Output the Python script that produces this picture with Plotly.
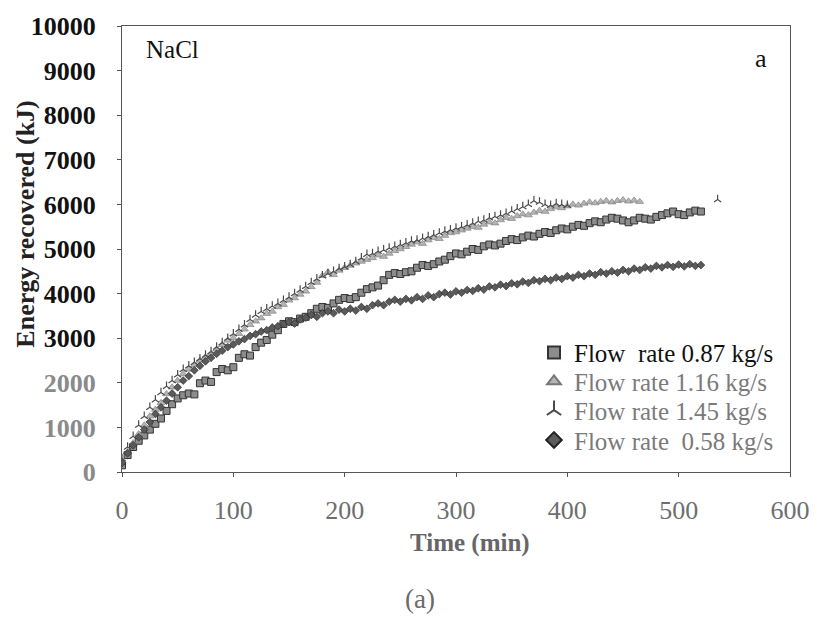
import plotly.graph_objects as go

# ---------------- data ----------------
step_min = 5  # sampling interval of the readings (min)

e_087 = [150, 380, 560, 700, 820, 950, 1080, 1200, 1370, 1520,
         1650, 1720, 1760, 1740, 1990, 2050, 2020, 2240, 2310, 2280,
         2350, 2560, 2640, 2610, 2800, 2900, 2960, 3080, 3180, 3320,
         3380, 3360, 3440, 3480, 3560, 3660, 3700, 3680, 3780, 3860,
         3900, 3880, 3920, 4020, 4100, 4140, 4180, 4300, 4420, 4460,
         4440, 4480, 4500, 4580, 4640, 4620, 4660, 4720, 4760, 4840,
         4900, 4880, 4940, 5000, 4980, 5060, 5100, 5080, 5120, 5180,
         5220, 5200, 5260, 5300, 5280, 5340, 5380, 5360, 5420, 5460,
         5440, 5500, 5540, 5520, 5580, 5620, 5600, 5660, 5700, 5680,
         5640, 5600, 5640, 5700, 5680, 5660, 5720, 5760, 5800, 5840,
         5780, 5760, 5820, 5860, 5840]

e_116 = [250, 450, 650, 850, 1050, 1250, 1400, 1550, 1750, 1900,
         2050, 2200, 2300, 2400, 2500, 2580, 2650, 2750, 2850, 2950,
         3000, 3100, 3200, 3300, 3380, 3450, 3550, 3600, 3700, 3750,
         3850, 3900, 3980, 4050, 4150, 4250, 4400, 4480, 4420, 4520,
         4580, 4630, 4680, 4720, 4760, 4800, 4860, 4830, 4900, 4960,
         5000, 5050, 5100, 5150, 5120, 5200, 5250, 5230, 5300, 5360,
         5380, 5420, 5460, 5500, 5480, 5550, 5600, 5580, 5650, 5700,
         5680, 5740, 5780, 5760, 5820, 5860, 5840, 5900, 5940, 5920,
         5960, 6000, 5980, 6020, 6050, 6030, 6060, 6080, 6050, 6080,
         6100, 6070, 6090, 6060]

e_145 = [300, 560, 800, 1050, 1250, 1450, 1620, 1780, 1920, 2050,
         2180, 2300, 2380, 2460, 2540, 2620, 2700, 2800, 2900, 3000,
         3100, 3200, 3300, 3420, 3520, 3600, 3660, 3720, 3780, 3850,
         3920, 4000, 4080, 4160, 4250, 4330, 4400, 4450, 4500, 4560,
         4600, 4650, 4720, 4800, 4880, 4900, 4950, 4980, 5020, 5060,
         5100, 5140, 5180, 5200, 5240, 5280, 5320, 5360, 5400, 5430,
         5470, 5500, 5540, 5580, 5620, 5650, 5700, 5730, 5760, 5800,
         5850, 5900, 5950, 6000, 6080, 6050, 6000, 5980, 6020, 6000,
         5980]
t_145_extra = [535]
e_145_extra = [6110]

e_058 = [200, 420, 600, 780, 950, 1120, 1300, 1450, 1600, 1760,
         1900, 2050, 2150, 2280, 2380, 2480, 2560, 2650, 2720, 2800,
         2860, 2930, 2980, 3050, 3090, 3150, 3180, 3240, 3270, 3320,
         3360, 3330, 3420, 3460, 3520, 3480, 3560, 3600, 3560, 3640,
         3600, 3660, 3620, 3700, 3660, 3740, 3780, 3740, 3820, 3860,
         3820, 3880, 3850, 3920, 3880, 3960, 3920, 3990, 4020, 3980,
         4050, 4020, 4080, 4060, 4120, 4090, 4160, 4140, 4200, 4170,
         4230, 4210, 4270, 4240, 4300, 4280, 4330, 4300, 4360, 4330,
         4390, 4360, 4420, 4390, 4450, 4420, 4480, 4450, 4500, 4470,
         4530, 4500, 4560, 4530, 4590, 4560, 4620, 4590, 4640, 4600,
         4650, 4610, 4660, 4620, 4640]

t_087 = [step_min * i for i in range(len(e_087))]
t_116 = [step_min * i for i in range(len(e_116))]
t_145 = [step_min * i for i in range(len(e_145))] + t_145_extra
e_145_all = e_145 + e_145_extra
t_058 = [step_min * i for i in range(len(e_058))]

names = ["<span style='color:#111'>Flow\u00a0\u00a0rate 0.87 kg/s</span>",
         "Flow rate 1.16 kg/s",
         "Flow rate 1.45 kg/s",
         "Flow rate \u00a00.58 kg/s"]

y_ticks = [0, 1000, 2000, 3000, 4000, 5000, 6000, 7000, 8000, 9000, 10000]
y_tick_text = ["<span style='color:#8a8a8a'>0</span>",
               "<span style='color:#8a8a8a'>1000</span>",
               "<span style='color:#8a8a8a'>2000</span>",
               "3000", "4000", "5000", "6000", "7000", "8000", "9000", "10000"]
x_ticks = [0, 100, 200, 300, 400, 500, 600]

# ---------------- figure ----------------
SERIF = "Liberation Serif, Times New Roman, serif"
W, H = 835, 619
L, R, T, B = 122, 790, 23, 472   # plot area in pixels


def px_x(p):
    return (p - L) / (R - L)


def px_y(p):
    return (B - p) / (B - T)


def note(text, x, y, size, color, angle=0):
    return dict(text=text, textangle=angle, xref="paper", yref="paper",
                x=px_x(x), y=px_y(y), xanchor="center", yanchor="middle",
                showarrow=False, font=dict(family=SERIF, size=size, color=color))


def legend_box(y_center):
    return dict(x=px_x(534), y=px_y(y_center), xanchor="left", yanchor="middle",
                bgcolor="rgba(0,0,0,0)", borderwidth=0,
                font=dict(family=SERIF, size=25, color="#7a7a7a"),
                itemsizing="constant")


fig = go.Figure()
fig.add_trace(go.Scatter(x=t_087, y=e_087, mode="markers", name=names[0],
                         legend="legend",
                         marker=dict(symbol="square", size=7, color="#8c8c8c",
                                     line=dict(color="#333333", width=1))))
fig.add_trace(go.Scatter(x=t_116, y=e_116, mode="markers", name=names[1],
                         legend="legend2",
                         marker=dict(symbol="triangle-up", size=7, color="#b4b4b4",
                                     line=dict(color="#777777", width=0.6))))
fig.add_trace(go.Scatter(x=t_145, y=e_145_all, mode="markers", name=names[2],
                         legend="legend3",
                         marker=dict(symbol="y-up", size=6, color="#4a4a4a",
                                     line=dict(color="#4a4a4a", width=1.2))))
fig.add_trace(go.Scatter(x=t_058, y=e_058, mode="markers", name=names[3],
                         legend="legend4",
                         marker=dict(symbol="diamond", size=6, color="#5a5a5a",
                                     line=dict(color="#222222", width=0.6))))

fig.update_layout(
    width=W, height=H,
    margin=dict(l=L, r=W - R, t=T, b=H - B, pad=0),
    paper_bgcolor="white", plot_bgcolor="white",
    font=dict(family=SERIF, size=25, color="#222"),
    showlegend=True,
    legend=legend_box(352),
    legend2=legend_box(381),
    legend3=legend_box(410),
    legend4=legend_box(440),
    xaxis=dict(range=[0, 600], tickvals=x_ticks, showgrid=False, zeroline=False,
               showline=True, linecolor="#555", linewidth=1, mirror=True,
               ticks="outside", ticklen=4, tickcolor="#555",
               ticklabelstandoff=11,
               tickfont=dict(family=SERIF, size=26, color="#6e6e6e")),
    yaxis=dict(range=[0, 10000], tickvals=y_ticks, ticktext=y_tick_text,
               showgrid=False, zeroline=False,
               showline=True, linecolor="#555", linewidth=1, mirror=True,
               ticks="outside", ticklen=4, tickcolor="#555",
               ticklabelstandoff=16,
               tickfont=dict(family=SERIF, size=26, color="#111", weight="bold")),
    annotations=[
        note("<b>Energy recovered (kJ)</b>", 26, 223, 26, "#222", -90),
        note("<b>Time (min)</b>", 470, 543, 25, "#666"),
        note("NaCl", 172, 47, 25, "#111"),
        note("a", 761, 56, 26, "#111"),
        note("(a)", 420, 600, 27, "#6a6a6a"),
    ],
)

fig.write_html("out.html")
